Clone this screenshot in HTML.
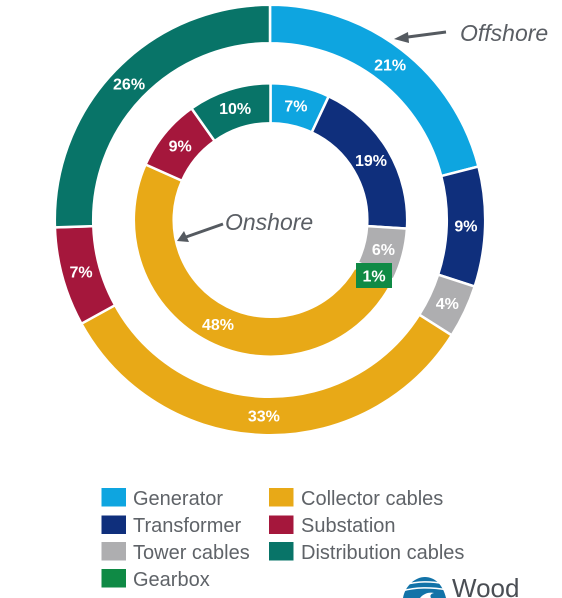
<!DOCTYPE html>
<html>
<head>
<meta charset="utf-8">
<style>
html,body{margin:0;padding:0;background:#fff;}
body{width:562px;height:598px;overflow:hidden;}
svg{display:block;font-family:"Liberation Sans",sans-serif;}
</style>
</head>
<body>
<svg id="chart" width="562" height="598" viewBox="0 0 562 598" xmlns="http://www.w3.org/2000/svg">
<g id="rings"></g>
<g id="legend"></g>
<g>
<line x1="446" y1="32" x2="404" y2="37.5" stroke="#555a60" stroke-width="3"/>
<polygon points="394,39 408,32 409,43" fill="#555a60"/>
<text x="460" y="41" font-size="23" font-style="italic" fill="#5a5e64">Offshore</text>
</g>
<g>
<line x1="223" y1="224" x2="186" y2="237" stroke="#555a60" stroke-width="3"/>
<polygon points="177,241 184,231 189,242" fill="#555a60"/>
<text x="225" y="230" font-size="23" font-style="italic" fill="#5a5e64">Onshore</text>
</g>
<g>
<rect x="356" y="263" width="36" height="25" fill="#0f8a45"/>
<text id="gearbox-callout-text" x="374" y="281.5" font-size="16" font-weight="bold" fill="#fff" text-anchor="middle"></text>
</g>
<g>
<path d="M403 598 C405 586 415 577 425 577 C435 577 443 585 446 598 Z" fill="#1273a8"/>
<path d="M404 585 C418 581 430 581 446 584" stroke="#fff" stroke-width="1.5" fill="none"/>
<path d="M402 591 C416 587 430 587 449 590" stroke="#fff" stroke-width="1.5" fill="none"/>
<path d="M420 598 C424 593 430 592 434 593 C430 594 430 596 431 598 Z" fill="#fff"/>
<text x="452" y="597" font-size="26" fill="#4a4e54">Wood</text>
</g>
</svg>
<script>
const segmentNames = ["Generator", "Transformer", "Tower cables", "Gearbox", "Collector cables", "Substation", "Distribution cables"];
const segmentColors = ["#0ea5e0", "#0f2f7c", "#aeaeb0", "#0f8a45", "#e8a917", "#a5173c", "#087468"];
const offshoreValues = [21, 9, 4, 0, 33, 7.45, 25.55];
const onshoreValues = [7, 19, 6.2, 1, 48.45, 8.55, 9.8];
const legendOrder = ["Generator", "Collector cables", "Transformer", "Substation", "Tower cables", "Distribution cables", "Gearbox"];

const NS = "http://www.w3.org/2000/svg";
const ringsGroup = document.getElementById("rings");
const legendGroup = document.getElementById("legend");

function angleScale(share) { return share * 2 * Math.PI - Math.PI / 2; }
function polar(cx, cy, r, a) { return [cx + r * Math.cos(a), cy + r * Math.sin(a)]; }

function drawRing(values, geo, ringName) {
  const total = values.reduce((s, v) => s + v, 0);
  let cum = 0;
  values.forEach((v, i) => {
    if (v <= 0) return;
    const a0 = angleScale(cum / total);
    const a1 = angleScale((cum + v) / total);
    cum += v;
    const large = a1 - a0 > Math.PI ? 1 : 0;
    const p0 = polar(geo.cx, geo.cy, geo.r, a0);
    const p1 = polar(geo.cx, geo.cy, geo.r, a1);
    const p2 = polar(geo.cx, geo.cy, geo.ir, a1);
    const p3 = polar(geo.cx, geo.cy, geo.ir, a0);
    const path = document.createElementNS(NS, "path");
    path.setAttribute("d", `M${p0[0]} ${p0[1]}A${geo.r} ${geo.r} 0 ${large} 1 ${p1[0]} ${p1[1]}L${p2[0]} ${p2[1]}A${geo.ir} ${geo.ir} 0 ${large} 0 ${p3[0]} ${p3[1]}Z`);
    path.setAttribute("fill", segmentColors[i]);
    path.setAttribute("stroke", "#fff");
    path.setAttribute("stroke-width", "2.5");
    
    
    ringsGroup.appendChild(path);
    const printed = Math.round(v) + "%";
    if (segmentNames[i] === "Gearbox") {
      document.getElementById("gearbox-callout-text").textContent = printed;
      return;
    }
    const mid = (a0 + a1) / 2;
    const lp = polar(geo.cx, geo.cy, (geo.r + geo.ir) / 2, mid);
    const t = document.createElementNS(NS, "text");
    t.setAttribute("x", lp[0]);
    t.setAttribute("y", lp[1] + 5.5);
    t.setAttribute("text-anchor", "middle");
    t.setAttribute("font-size", "16");
    t.setAttribute("font-weight", "bold");
    t.setAttribute("fill", "#fff");
    t.textContent = printed;
    
    
    ringsGroup.appendChild(t);
  });
}

drawRing(offshoreValues, {cx: 270, cy: 220, r: 215.2, ir: 176.8}, "offshore");
drawRing(onshoreValues, {cx: 270.5, cy: 220, r: 136.7, ir: 96.8}, "onshore");

legendOrder.forEach((name, k) => {
  const idx = segmentNames.indexOf(name);
  const rowOf = [0, 0, 1, 1, 2, 2, 3];
  const col = k === 6 ? 0 : k % 2;
  const x = col === 0 ? 101.5 : 269;
  const row = rowOf[k];
  const y = [488, 515.5, 542, 569][row];
  const baseline = [505, 532, 559, 586][row];
  const r = document.createElementNS(NS, "rect");
  r.setAttribute("x", x);
  r.setAttribute("y", y);
  r.setAttribute("width", "24.5");
  r.setAttribute("height", "18.5");
  r.setAttribute("fill", segmentColors[idx]);
  
  
  legendGroup.appendChild(r);
  const t = document.createElementNS(NS, "text");
  t.setAttribute("x", col === 0 ? 133 : 301);
  t.setAttribute("y", baseline);
  t.setAttribute("font-size", "20");
  t.setAttribute("fill", "#5f6368");
  t.textContent = name;
  
  
  legendGroup.appendChild(t);
});
</script>
</body>
</html>
